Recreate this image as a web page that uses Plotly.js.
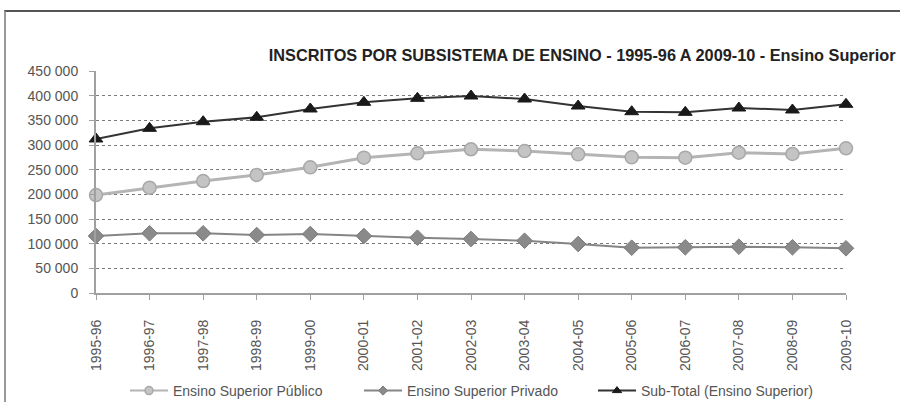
<!DOCTYPE html>
<html>
<head>
<meta charset="utf-8">
<script src="https://cdn.plot.ly/plotly-3.0.1.min.js"></script>
<style>
  html, body { margin: 0; padding: 0; background: #fff; }
  #wrap { position: relative; width: 900px; height: 402px; overflow: hidden; }
  #chart { width: 900px; height: 402px; }
  #frame { position: absolute; left: 4px; top: 10px; width: 920px; height: 420px;
           border-top: 2px solid #555; border-left: 2px solid #999; pointer-events: none; }
</style>
</head>
<body>
<div id="wrap">
  <div id="chart"></div>
  <div id="frame"></div>
</div>
<script>
const categories = ["1995-96","1996-97","1997-98","1998-99","1999-00","2000-01","2001-02",
  "2002-03","2003-04","2004-05","2005-06","2006-07","2007-08","2008-09","2009-10"];
const publico = [198600, 213500, 227000, 239200, 254700, 274300, 283200, 291300,
  287800, 281100, 275000, 274300, 284400, 281800, 293300];
const privado = [115500, 121000, 121000, 117600, 119600, 115500, 112100, 109500,
  106000, 99300, 91800, 92600, 93900, 92600, 90600];
const subtotal = [312200, 333800, 347200, 356100, 373000, 386500, 394600, 399300,
  393200, 379000, 367500, 366200, 375000, 371000, 382500];
const seriesNames = ["Ensino Superior Público", "Ensino Superior Privado", "Sub-Total (Ensino Superior)"];
const yTickVals = [0, 50000, 100000, 150000, 200000, 250000, 300000, 350000, 400000, 450000];
const titleText = "INSCRITOS POR SUBSISTEMA DE ENSINO - 1995-96 A 2009-10 - Ensino Superior";

const FONT = "Liberation Sans, Arial, sans-serif";

const styles = [
  { line: { color: "#b4b4b4", width: 3 },
    marker: { symbol: "circle", size: 13, color: "#c4c4c4", line: { color: "#a8a8a8", width: 1.5 } },
    legendMarkerSize: 8 },
  { line: { color: "#858585", width: 2 },
    marker: { symbol: "diamond", size: 12, color: "#8a8a8a", line: { color: "#7a7a7a", width: 1 } },
    legendMarkerSize: 7 },
  { line: { color: "#333333", width: 2 },
    marker: { symbol: "triangle-up", size: 12, color: "#1a1a1a", line: { color: "#1a1a1a", width: 1 } },
    legendMarkerSize: 8 }
];
const values = [publico, privado, subtotal];

const traces = [];
values.forEach((vals, i) => {
  traces.push({ x: categories, y: vals, name: seriesNames[i], type: "scatter", mode: "lines+markers",
    line: styles[i].line, marker: styles[i].marker, cliponaxis: false, showlegend: false });
});
// legend entries with smaller symbols (no drawn points)
values.forEach((vals, i) => {
  traces.push({ x: [categories[0]], y: [null], name: seriesNames[i], type: "scatter", mode: "lines+markers",
    line: { color: styles[i].line.color, width: 2 },
    marker: Object.assign({}, styles[i].marker, { size: styles[i].legendMarkerSize }),
    showlegend: true });
});

const layout = {
  width: 900, height: 402,
  margin: { l: 96, r: 54, t: 71, b: 109, autoexpand: false },
  paper_bgcolor: "#ffffff", plot_bgcolor: "#ffffff",
  separators: ". ",
  font: { family: FONT, size: 14, color: "#555555" },
  title: { text: titleText, font: { family: FONT, size: 16.3, color: "#222222", weight: "bold" },
           xref: "container", yref: "container", x: 0.995, xanchor: "right",
           y: 1 - 55 / 402, yanchor: "middle" },
  xaxis: {
    type: "category", range: [0, categories.length - 1], automargin: false,
    tickangle: -90, tickfont: { family: FONT, size: 14, color: "#555555" },
    showline: true, linecolor: "#a0a0a0", linewidth: 2,
    ticks: "outside", ticklen: 5, tickcolor: "#a0a0a0", tickwidth: 1,
    showgrid: false, zeroline: false, ticklabelstandoff: 14
  },
  yaxis: {
    range: [0, 450000], tickvals: yTickVals, tickformat: ",d", automargin: false,
    tickfont: { family: FONT, size: 14, color: "#555555" },
    showline: true, linecolor: "#a0a0a0", linewidth: 2,
    ticks: "outside", ticklen: 5, tickcolor: "#a0a0a0",
    showgrid: true, gridcolor: "#7a7a7a", gridwidth: 1, griddash: "dot",
    zeroline: false, ticklabelstandoff: 8
  },
  legend: {
    orientation: "h", xref: "container", yref: "container",
    x: 125 / 900, xanchor: "left", y: 1 - 391 / 402, yanchor: "middle",
    itemwidth: 38, entrywidth: 181, traceorder: "normal",
    font: { family: FONT, size: 14, color: "#555555" }, bgcolor: "rgba(0,0,0,0)"
  },
  showlegend: true
};

Plotly.newPlot("chart", traces, layout, { displayModeBar: false, staticPlot: true });
</script>
</body>
</html>
